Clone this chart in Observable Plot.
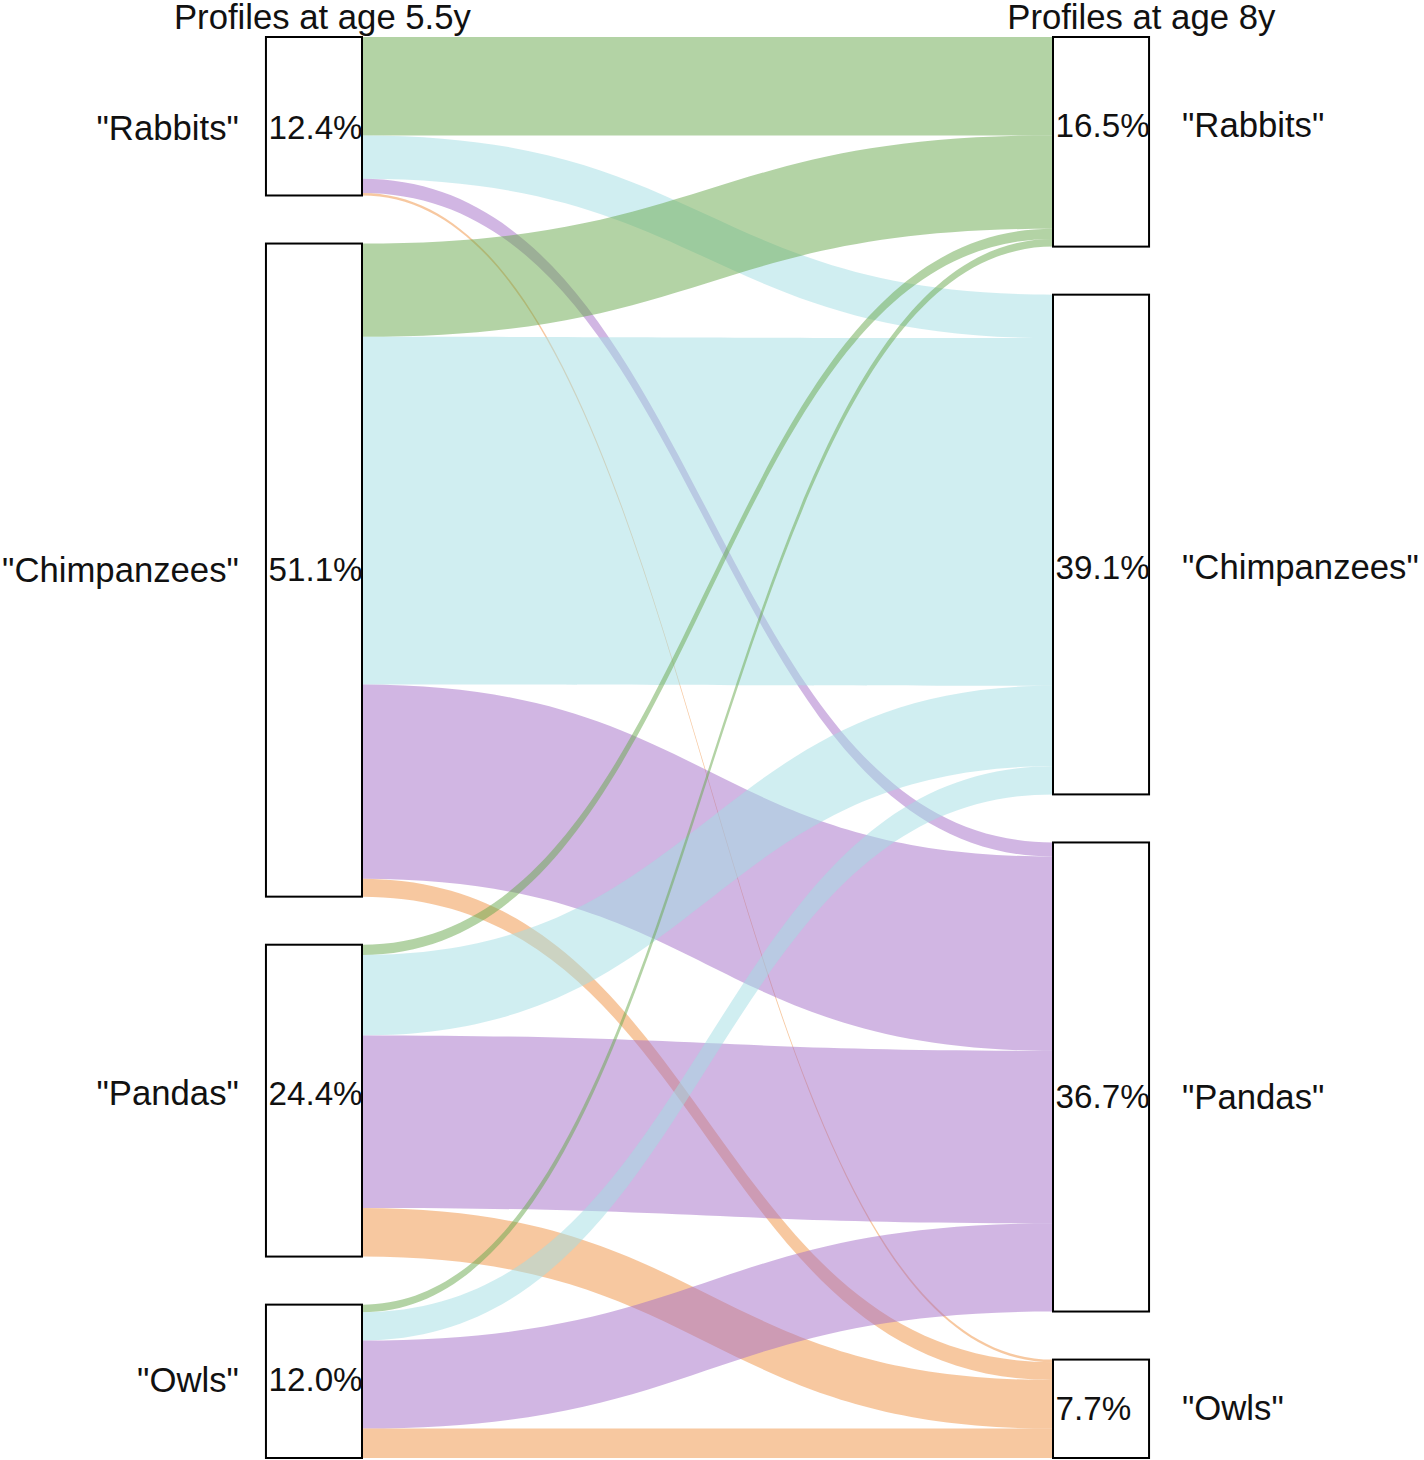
<!DOCTYPE html>
<html><head><meta charset="utf-8">
<script src="https://cdn.jsdelivr.net/npm/d3@7"></script>
<script src="https://cdn.jsdelivr.net/npm/@observablehq/plot@0.6"></script>
<style>body{margin:0;background:#fff;} svg{display:block;}</style>
</head><body><div id="chart"></div>
<script>
// ---------- data ----------
const categories = ["\"Rabbits\"", "\"Chimpanzees\"", "\"Pandas\"", "\"Owls\""];
const stageTitles = ["Profiles at age 5.5y", "Profiles at age 8y"];
const pctAt55 = ["12.4%", "51.1%", "24.4%", "12.0%"];
const pctAt8 = ["16.5%", "39.1%", "36.7%", "7.7%"];
// % of children moving from a profile at 5.5y to each profile at 8y (Rabbits, Chimpanzees, Pandas, Owls)
const fromRabbits = [7.7, 3.4, 1.1, 0.2];
const fromChimpanzees = [7.3, 27.2, 15.2, 1.4];
const fromPandas = [0.8, 6.3, 13.5, 3.8];
const fromOwls = [0.6, 2.2, 6.9, 2.3];
const flowColors = ["#67a74b", "#a1dde3", "#a36dc7", "#ef9141"];

// ---------- layout ----------
const flows = [fromRabbits, fromChimpanzees, fromPandas, fromOwls];
const gap = 3.76;          // vertical gap between nodes, in % units
const nodeW = 0.139;       // node width, in stage units (stage 0 -> stage 1)
const leftTotals = flows.map(r => d3.sum(r));
const rightTotals = categories.map((_, j) => d3.sum(flows, r => r[j]));
function stack(tot) { let y = 0; return tot.map(v => { const n = {y1: y, y2: y + v}; y += v + gap; return n; }); }
const L = stack(leftTotals), R = stack(rightTotals);
const yMax = Math.max(L[3].y2, R[3].y2);
const yRange = [37, 1458];
const pxPerUnit = (yRange[1] - yRange[0]) / yMax;

const srcOff = L.map(n => n.y1), tgtOff = R.map(n => n.y1);
const ribbons = [];
flows.forEach((row, i) => row.forEach((v, j) => {
  const a = srcOff[i]; srcOff[i] += v;
  const b = tgtOff[j]; tgtOff[j] += v;
  const id = i * 4 + j;
  ribbons.push({id, target: categories[j], x: 0, y1: a, y2: a + v});
  ribbons.push({id, target: categories[j], x: 1, y1: b, y2: b + v});
}));

const nudgeL = [12, 0, -7, -1], nudgeR = [-16, 23, 20, 0]; // label offsets in px
const leftNodes = categories.map((c, i) => ({cat: c, pct: pctAt55[i], y1: L[i].y1, y2: L[i].y2,
  ym: (L[i].y1 + L[i].y2) / 2 + nudgeL[i] / pxPerUnit}));
const rightNodes = categories.map((c, i) => ({cat: c, pct: pctAt8[i], y1: R[i].y1, y2: R[i].y2,
  ym: (R[i].y1 + R[i].y2) / 2 + nudgeR[i] / pxPerUnit}));

const font = "Liberation Sans, Arial, Helvetica, sans-serif";
const fs = 34.7;
const fsPct = 33.2;

const chart = Plot.plot({
  width: 1424, height: 1460, margin: 0,
  style: {fontFamily: font, background: "#fff"},
  x: {domain: [0, 1], range: [362, 1053], axis: null},
  y: {domain: [0, yMax], range: yRange, axis: null},
  color: {domain: categories, range: flowColors},
  marks: [
    Plot.areaY(ribbons, {x: "x", y1: "y1", y2: "y2", z: "id", fill: "target", fillOpacity: 0.5, curve: "bump-x"}),
    Plot.rect(leftNodes, {x1: -nodeW, x2: 0, y1: "y1", y2: "y2", fill: "white", stroke: "black", strokeWidth: 2}),
    Plot.rect(rightNodes, {x1: 1, x2: 1 + nodeW, y1: "y1", y2: "y2", fill: "white", stroke: "black", strokeWidth: 2}),
    Plot.text(leftNodes, {x: -nodeW + 0.003, y: "ym", text: "pct", textAnchor: "start", fontSize: fsPct, fill: "#111"}),
    Plot.text(rightNodes, {x: 1.003, y: "ym", text: "pct", textAnchor: "start", fontSize: fsPct, fill: "#111"}),
    Plot.text(leftNodes, {x: -0.179, y: "ym", text: "cat", textAnchor: "end", fontSize: fs, fill: "#111"}),
    Plot.text(rightNodes, {x: 1.186, y: "ym", text: "cat", textAnchor: "start", fontSize: fs, fill: "#111"}),
    Plot.text(stageTitles, {x: [-0.058, 1.127], text: d => d, frameAnchor: "top", lineAnchor: "top", dy: 4, fontSize: fs, fill: "#111"})
  ]
});
document.getElementById("chart").appendChild(chart);
</script>
</body></html>
